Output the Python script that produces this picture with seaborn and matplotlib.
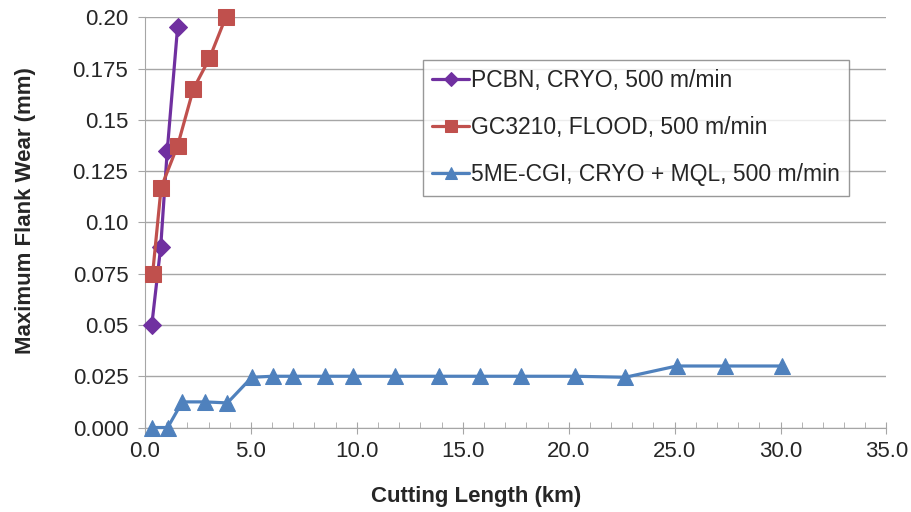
import numpy as np
import matplotlib
matplotlib.use("Agg")
import matplotlib.pyplot as plt
import pandas as pd
import seaborn as sns
from matplotlib.ticker import MultipleLocator, FixedLocator

# 数据
pcbn_x = [0.32, 0.74, 1.05, 1.54]
pcbn_y = [0.050, 0.088, 0.135, 0.1955]

gc_x = [0.36, 0.76, 1.54, 2.28, 3.04, 3.81]
gc_y = [0.075, 0.117, 0.1375, 0.165, 0.180, 0.200]

cgi_x = [0.32, 1.07, 1.76, 2.83, 3.89, 5.04, 6.03, 7.0, 8.5, 9.84, 11.81,
         13.86, 15.79, 17.75, 20.3, 22.67, 25.1, 27.4, 30.07]
cgi_y = [0.0, 0.0, 0.0125, 0.0125, 0.012, 0.0245, 0.025, 0.025, 0.025, 0.025,
         0.025, 0.025, 0.025, 0.025, 0.025, 0.0245, 0.030, 0.030, 0.030]

labels = ["PCBN, CRYO, 500 m/min", "GC3210, FLOOD, 500 m/min",
          "5ME-CGI, CRYO + MQL, 500 m/min"]
colors = ["#7030A0", "#C0504D", "#4F81BD"]
markers = ["D", "s", "^"]

y_ticks = [0.0, 0.025, 0.05, 0.075, 0.10, 0.125, 0.15, 0.175, 0.20]
y_tick_labels = ["0.000", "0.025", "0.05", "0.075", "0.10", "0.125", "0.15", "0.175", "0.20"]
x_ticks = [0, 5, 10, 15, 20, 25, 30, 35]
x_tick_labels = ["0.0", "5.0", "10.0", "15.0", "20.0", "25.0", "30.0", "35.0"]

sns.set_style("white")
plt.rcParams['font.family'] = ['Liberation Sans', 'DejaVu Sans']

fig = plt.figure(figsize=(9.12, 5.12), dpi=100)
ax = fig.add_axes([0.159, 0.165, 0.813, 0.801])

series = [(pcbn_x, pcbn_y), (gc_x, gc_y), (cgi_x, cgi_y)]
msizes = [9, 11, 11]
for (xs, ys), lab, c, m, ms in zip(series, labels, colors, markers, msizes):
    df = pd.DataFrame({"x": xs, "y": ys})
    sns.lineplot(data=df, x="x", y="y", ax=ax, color=c, marker=m, markersize=ms,
                 markeredgecolor=c, linewidth=2.3, label=lab, sort=False,
                 clip_on=False, zorder=3)

ax.set_xlim(0, 35)
ax.set_ylim(0, 0.2)
ax.yaxis.set_major_locator(FixedLocator(y_ticks))
ax.set_yticklabels(y_tick_labels)
ax.xaxis.set_major_locator(FixedLocator(x_ticks))
ax.set_xticklabels(x_tick_labels)
ax.xaxis.set_minor_locator(MultipleLocator(1))

ax.grid(axis="y", color="#A6A6A6", linewidth=1)
ax.grid(axis="x", visible=False)
for s in ["top", "right"]:
    ax.spines[s].set_visible(False)
ax.spines["left"].set_color("#A6A6A6")
ax.spines["bottom"].set_color("#A6A6A6")

ax.tick_params(axis="y", which="major", left=True, length=5, color="#A6A6A6",
               labelsize=16, pad=7)
ax.tick_params(axis="x", which="major", bottom=True, direction="inout", length=8,
               color="#A6A6A6", labelsize=16, pad=6)
ax.tick_params(axis="x", which="minor", bottom=True, direction="in", length=4,
               color="#A6A6A6")

ax.set_xlabel("Cutting Length (km)", fontsize=16, fontweight="bold", labelpad=17)
ax.set_ylabel("Maximum Flank Wear (mm)", fontsize=16, fontweight="bold", labelpad=26)
ax.xaxis.label.set_x(0.447)
ax.yaxis.label.set_y(0.528)

leg = ax.legend(loc="upper left", bbox_to_anchor=(0.375, 0.896), fontsize=16.5,
                frameon=True, fancybox=False, edgecolor="#7F7F7F",
                handlelength=1.6, handletextpad=0.1, labelspacing=1.05,
                borderpad=0.4, borderaxespad=0, markerscale=0.8)
leg.get_frame().set_linewidth(1)

fig.savefig("out.png", dpi=100)
